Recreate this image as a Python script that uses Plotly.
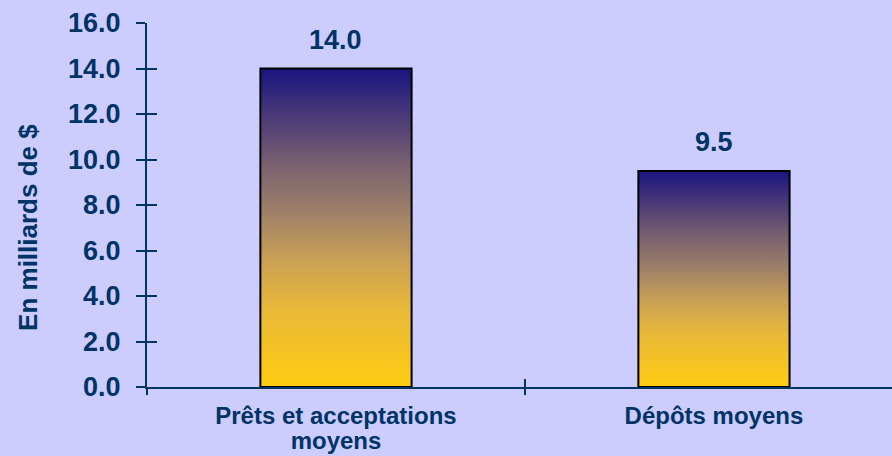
import plotly.graph_objects as go

categories_line1 = ["Prêts et acceptations", "Dépôts moyens"]
categories_line2 = ["moyens", ""]
values = [14.0, 9.5]
value_labels = ["14.0", "9.5"]
y_ticks = [0, 2, 4, 6, 8, 10, 12, 14, 16]
y_title = "En milliards de $"

NAVY = "#003366"
BG = "#CCCCFF"
FONT = "Liberation Sans, Arial, sans-serif"
HALF_W = 0.2

gradient = [
    [0.0, "#FFCC11"],
    [0.25, "#E8B83A"],
    [0.4, "#C9A055"],
    [0.55, "#9E8068"],
    [0.7, "#7A6070"],
    [0.85, "#4A3A78"],
    [1.0, "#1A1480"],
]

fig = go.Figure()
positions = list(range(len(categories_line1)))
for i, v in zip(positions, values):
    fig.add_trace(go.Scatter(
        x=[i - HALF_W, i - HALF_W, i + HALF_W, i + HALF_W, i - HALF_W],
        y=[0, v, v, 0, 0],
        mode="lines",
        fill="toself",
        fillgradient=dict(type="vertical", colorscale=gradient, start=0, stop=v),
        line=dict(color="#000000", width=2),
        hoverinfo="skip",
        showlegend=False,
    ))

# invisible traces so the overlay axes are drawn
for xa, ya in [("x2", "y2"), ("x3", "y2"), ("x4", "y2")]:
    fig.add_trace(go.Scatter(x=[positions[0]], y=[0], xaxis=xa, yaxis=ya, mode="markers",
                             marker=dict(opacity=0), hoverinfo="skip", showlegend=False))

for i, v, t in zip(positions, values, value_labels):
    fig.add_annotation(x=i, y=v, text=t, showarrow=False, yanchor="bottom",
                       yshift=12, font=dict(family=FONT, size=27, color=NAVY, weight="bold"))

fig.add_annotation(xref="paper", yref="paper", x=0, y=0.437, xshift=-119,
                   text=y_title, textangle=-90, showarrow=False,
                   xanchor="center", yanchor="middle",
                   font=dict(family=FONT, size=26, color=NAVY, weight="bold"))

xr = [-0.5, 1.471]
boundaries = [p - 0.5 for p in positions] + [positions[-1] + 0.5]
label_font = dict(size=24, color=NAVY, family=FONT, weight="bold")

fig.update_layout(
    width=892, height=456,
    margin=dict(l=147, r=0, t=23, b=69),
    paper_bgcolor=BG, plot_bgcolor=BG,
    font=dict(family=FONT, color=NAVY, weight="bold"),
    xaxis=dict(range=xr, tickvals=positions, ticktext=categories_line1, ticks="",
               showline=True, linecolor=NAVY, linewidth=2, showgrid=False, zeroline=False,
               tickfont=label_font, ticklabelstandoff=6, fixedrange=True, automargin=False),
    xaxis4=dict(range=xr, overlaying="x", anchor="y", tickvals=positions,
                ticktext=categories_line2, ticks="", tickfont=label_font,
                ticklabelstandoff=37, showline=False, showgrid=False, zeroline=False,
                automargin=False),
    xaxis2=dict(range=xr, overlaying="x", anchor="y", tickvals=boundaries, ticks="outside",
                ticklen=7, tickwidth=1.5, tickcolor=NAVY, showticklabels=False,
                showline=False, showgrid=False, zeroline=False, automargin=False),
    xaxis3=dict(range=xr, overlaying="x", anchor="y", tickvals=boundaries, ticks="inside",
                ticklen=8, tickwidth=1.5, tickcolor=NAVY, showticklabels=False,
                showline=False, showgrid=False, zeroline=False, automargin=False),
    yaxis=dict(range=[0, 16], tickvals=y_ticks, tickformat=".1f", ticks="outside",
               ticklen=9, tickwidth=1.5, tickcolor=NAVY,
               showline=True, linecolor=NAVY, linewidth=2, showgrid=False, zeroline=False,
               tickfont=dict(size=27, color=NAVY, family=FONT, weight="bold"),
               ticklabelstandoff=10, fixedrange=True, automargin=False),
    yaxis2=dict(range=[0, 16], overlaying="y", anchor="x", side="left", tickvals=y_ticks,
                ticks="inside", ticklen=10, tickwidth=1.5, tickcolor=NAVY,
                showticklabels=False, showline=False, showgrid=False, zeroline=False,
                automargin=False),
)

fig.write_html("out.html", config={"displayModeBar": False})
